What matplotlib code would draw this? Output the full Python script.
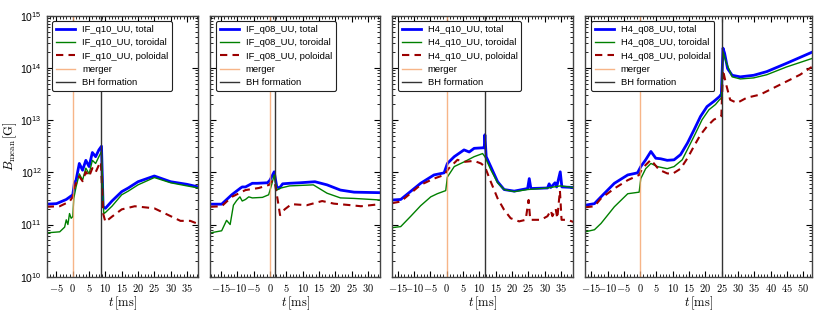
import numpy as np
import matplotlib
matplotlib.use("Agg")
import matplotlib.pyplot as plt
from matplotlib.ticker import FuncFormatter, MultipleLocator, LogLocator, NullFormatter, LogFormatterMathtext

plt.rcParams['mathtext.fontset'] = 'cm'
plt.rcParams['font.family'] = ['Liberation Sans', 'DejaVu Sans']

# ---------------- data (log10 of B in Gauss) ----------------
names = ["IF_q10_UU", "IF_q08_UU", "H4_q10_UU", "H4_q08_UU"]
xlims = [(-8.0, 38.5), (-18.25, 33.8), (-16.7, 38.8), (-16.8, 52.6)]
t_merger = [0.0, 0.0, 0.0, 0.0]
t_bh = [8.6, 1.6, 11.7, 25.0]

# Panel 1: IF_q10_UU
p1_t_tot = [-8, -5, -2, 0, 0.5, 1, 2, 3, 4, 5, 6, 7, 8, 8.8, 9.3, 10, 12, 15, 17, 20, 25, 30, 35, 38.5]
p1_tot = [11.39, 11.40, 11.48, 11.57, 11.80, 11.85, 12.17, 12.04, 12.23, 12.11, 12.38, 12.30, 12.43, 12.50,
          11.34, 11.31, 11.45, 11.63, 11.70, 11.82, 11.93, 11.82, 11.77, 11.72]
p1_t_tor = [-8, -4, -3, -2.5, -2, -1.5, -1, -0.5, 0, 0.3, 1, 2, 3, 4, 5, 6, 7, 8, 8.8, 9.5, 10, 12, 15, 17,
            20, 25, 30, 35, 38.5]
p1_tor = [10.84, 10.86, 10.92, 10.95, 11.09, 11.00, 11.21, 11.12, 11.15, 11.50, 11.72, 11.97, 11.85, 12.08,
          11.97, 12.23, 12.17, 12.30, 12.40, 11.21, 11.23, 11.35, 11.57, 11.64, 11.76, 11.90, 11.80, 11.74, 11.70]
p1_t_pol = [-8, -4, -1, 0, 0.5, 1, 2, 3, 4, 5, 6, 7, 8, 8.6, 9.3, 10, 12, 15, 19, 25, 30, 33, 36, 38.5]
p1_pol = [11.34, 11.35, 11.44, 11.53, 11.72, 11.79, 11.92, 11.83, 12.01, 11.92, 12.08, 12.00, 12.14, 12.20,
          11.21, 11.05, 11.15, 11.29, 11.35, 11.31, 11.16, 11.07, 11.07, 11.01]

# Panel 2: IF_q08_UU
p2_t_tot = [-18.25, -14.8, -11.7, -9, -8.5, -7.5, -5.4, -3.9, -0.75, 0, 1.3, 2.1, 2.9, 3.9, 6.0, 9.2, 13.8,
            17.5, 21.6, 25.8, 33.8]
p2_tot = [11.39, 11.39, 11.57, 11.70, 11.72, 11.72, 11.79, 11.79, 11.80, 11.85, 12.01, 11.72, 11.70, 11.78,
          11.79, 11.80, 11.82, 11.76, 11.66, 11.62, 11.61]
p2_t_tor = [-18.25, -14.8, -13.3, -12.2, -11.2, -10.2, -9.2, -8.5, -7.5, -6.5, -5.4, -2.3, -0.4, 0.5, 1.3,
            2.1, 3.4, 6.0, 13.3, 17.5, 21.6, 25.8, 33.8]
p2_tor = [10.84, 10.88, 11.08, 11.00, 11.37, 11.46, 11.53, 11.45, 11.48, 11.53, 11.51, 11.52, 11.57, 11.76,
          11.95, 11.66, 11.70, 11.74, 11.76, 11.60, 11.51, 11.50, 11.47]
p2_t_pol = [-18.25, -14.8, -11.7, -7.5, -3.4, -0.25, 0.8, 1.6, 2.4, 3.1, 4.5, 6.6, 11.3, 16.0, 19.6, 24.8,
            27.9, 33.8]
p2_pol = [11.34, 11.35, 11.53, 11.66, 11.70, 11.76, 11.85, 11.76, 11.46, 11.18, 11.29, 11.39, 11.37, 11.45,
          11.40, 11.37, 11.35, 11.39]

# Panel 3: H4_q10_UU
p3_t_tot = [-16.7, -14.1, -8, -3.9, -0.8, 0.2, 2.3, 5.3, 6.9, 8.4, 11, 11.5, 11.7, 12.1, 13.5, 15.6, 17.6,
            20.7, 24.8, 25.3, 25.8, 30.9, 31.4, 31.9, 33.2, 33.7, 34.8, 35.3, 38.8]
p3_tot = [11.47, 11.48, 11.79, 11.95, 11.99, 12.17, 12.30, 12.43, 12.39, 12.46, 12.47, 12.47, 12.72, 12.30,
          12.11, 11.82, 11.67, 11.64, 11.69, 11.88, 11.69, 11.70, 11.78, 11.71, 11.80, 11.72, 12.01, 11.72, 11.71]
p3_t_tor = [-16.7, -14.1, -11, -8, -4.9, -2.9, -0.3, 0.2, 2.3, 5.3, 8.4, 11, 11.7, 13.5, 15.6, 17.6, 20.7,
            24.8, 30.9, 34.8, 38.8]
p3_tor = [10.94, 10.96, 11.16, 11.36, 11.53, 11.59, 11.65, 11.91, 12.11, 12.20, 12.30, 12.36, 12.30, 12.05,
          11.80, 11.67, 11.63, 11.67, 11.70, 11.74, 11.71]
p3_t_pol = [-16.7, -14.1, -8, -3.9, -0.8, 0.7, 3.3, 5.3, 8.4, 10.5, 11.7, 13.5, 15.6, 17.6, 19.6, 22.2, 24.2,
            25.1, 25.6, 28.9, 30.9, 31.9, 32.4, 33.4, 33.9, 34.7, 35.2, 37, 38.8]
p3_pol = [11.41, 11.44, 11.76, 11.88, 11.95, 12.08, 12.24, 12.20, 12.22, 12.17, 12.11, 11.82, 11.50, 11.28,
          11.12, 11.06, 11.09, 11.47, 11.09, 11.09, 11.16, 11.27, 11.16, 11.30, 11.12, 11.65, 11.09, 11.09, 11.05]

# Panel 4: H4_q08_UU
p4_t_tot = [-16.8, -14, -12, -7.9, -3.8, -0.8, 0.2, 1.7, 3.3, 4.8, 6.3, 8.3, 10.4, 12.4, 14.5, 16.5, 18.5,
            20.5, 22.6, 24.3, 24.9, 25.4, 25.9, 26.8, 28.2, 30.7, 34.8, 38.8, 44.9, 52.6]
p4_tot = [11.37, 11.40, 11.53, 11.79, 11.95, 11.99, 12.11, 12.24, 12.40, 12.27, 12.26, 12.23, 12.24, 12.34,
          12.56, 12.81, 13.07, 13.26, 13.36, 13.45, 13.50, 14.38, 14.28, 13.99, 13.86, 13.83, 13.86, 13.93,
          14.09, 14.30]
p4_t_tor = [-16.8, -14, -12, -7.9, -3.8, -0.3, 0.2, 1.7, 3.3, 5.3, 8.3, 10.4, 12.9, 15, 17, 19, 21.1, 23.1,
            24.3, 24.9, 25.4, 26.3, 28.2, 30.7, 34.8, 38.8, 44.9, 52.6]
p4_tor = [10.86, 10.90, 11.02, 11.34, 11.59, 11.62, 11.88, 12.07, 12.17, 12.11, 12.07, 12.11, 12.24, 12.50,
          12.75, 13.01, 13.20, 13.30, 13.39, 13.42, 14.31, 14.12, 13.83, 13.79, 13.81, 13.87, 14.02, 14.18]
p4_t_pol = [-16.8, -14, -12, -7.9, -3.8, -0.3, 0.7, 3.3, 5.8, 8.3, 9.9, 12.4, 14.5, 16.5, 18.5, 20.5, 22.6,
            24.3, 24.9, 25.4, 26.3, 27.6, 29.7, 32.7, 36.8, 42.9, 49, 52.6]
p4_pol = [11.33, 11.35, 11.50, 11.69, 11.85, 11.95, 12.08, 12.24, 12.05, 11.98, 11.97, 12.07, 12.27, 12.50,
          12.72, 12.88, 13.01, 13.06, 13.08, 13.96, 13.70, 13.39, 13.33, 13.43, 13.49, 13.68, 13.87, 14.02]

panels = [
    (p1_t_tot, p1_tot, p1_t_tor, p1_tor, p1_t_pol, p1_pol),
    (p2_t_tot, p2_tot, p2_t_tor, p2_tor, p2_t_pol, p2_pol),
    (p3_t_tot, p3_tot, p3_t_tor, p3_tor, p3_t_pol, p3_pol),
    (p4_t_tot, p4_tot, p4_t_tor, p4_tor, p4_t_pol, p4_pol),
]

# ---------------- figure ----------------
fig = plt.figure(figsize=(8.22, 3.16), dpi=100)
ratios = [x[1] - x[0] for x in xlims]
gs = fig.add_gridspec(1, 4, width_ratios=ratios, left=0.0568, right=0.9875,
                      top=0.950, bottom=0.1244, wspace=0.066)

mathfmt = FuncFormatter(lambda v, p: r"$%g$" % v)

for i in range(4):
    ax = fig.add_subplot(gs[0, i])
    tt, vt, tr, vr, tp, vp = panels[i]
    ax.plot(tt, 10.0 ** np.array(vt), color='blue', lw=2.0, label=names[i] + ", total")
    ax.plot(tr, 10.0 ** np.array(vr), color='green', lw=1.0, label=names[i] + ", toroidal")
    ax.plot(tp, 10.0 ** np.array(vp), color='#9b0000', lw=1.5, ls=(0, (3.5, 2.5)),
            label=names[i] + ", poloidal")
    ax.axvline(t_merger[i], color='#f5a36a', lw=1.0, alpha=0.8, label='merger')
    ax.axvline(t_bh[i], color='#333333', lw=1.0, label='BH formation')
    ax.set_yscale('log')
    ax.set_ylim(1e10, 1e15)
    ax.set_xlim(*xlims[i])
    ax.xaxis.set_major_locator(MultipleLocator(5))
    ax.xaxis.set_minor_locator(MultipleLocator(1))
    ax.xaxis.set_major_formatter(mathfmt)
    ax.yaxis.set_major_locator(LogLocator(base=10, numticks=10))
    ax.yaxis.set_minor_locator(LogLocator(base=10, subs=np.arange(2, 10), numticks=20))
    ax.yaxis.set_minor_formatter(NullFormatter())
    if i == 0:
        ax.yaxis.set_major_formatter(LogFormatterMathtext())
        ax.set_ylabel(r"$B_{\rm mean}\,[\rm G]$", fontsize=9)
        ax.yaxis.set_label_coords(-0.18, 0.5)
    else:
        ax.yaxis.set_major_formatter(NullFormatter())
    ax.tick_params(which='both', direction='in', top=True, right=True, labelsize=7.5, pad=3.5)
    ax.tick_params(which='major', length=4)
    ax.tick_params(which='minor', length=2)
    for s in ax.spines.values():
        s.set_linewidth(1.0)
        s.set_color('#444444')
    ax.set_xlabel(r"$t\,[\rm ms]$", fontsize=9, labelpad=1)
    leg = ax.legend(loc='upper left', fontsize=6.8, handlelength=2.0, handletextpad=0.75,
                    labelspacing=0.45, borderpad=0.4, borderaxespad=0.6, fancybox=True,
                    framealpha=1.0, edgecolor='#222222')
    leg.get_frame().set_linewidth(0.8)

fig.savefig("out.png", dpi=100)
